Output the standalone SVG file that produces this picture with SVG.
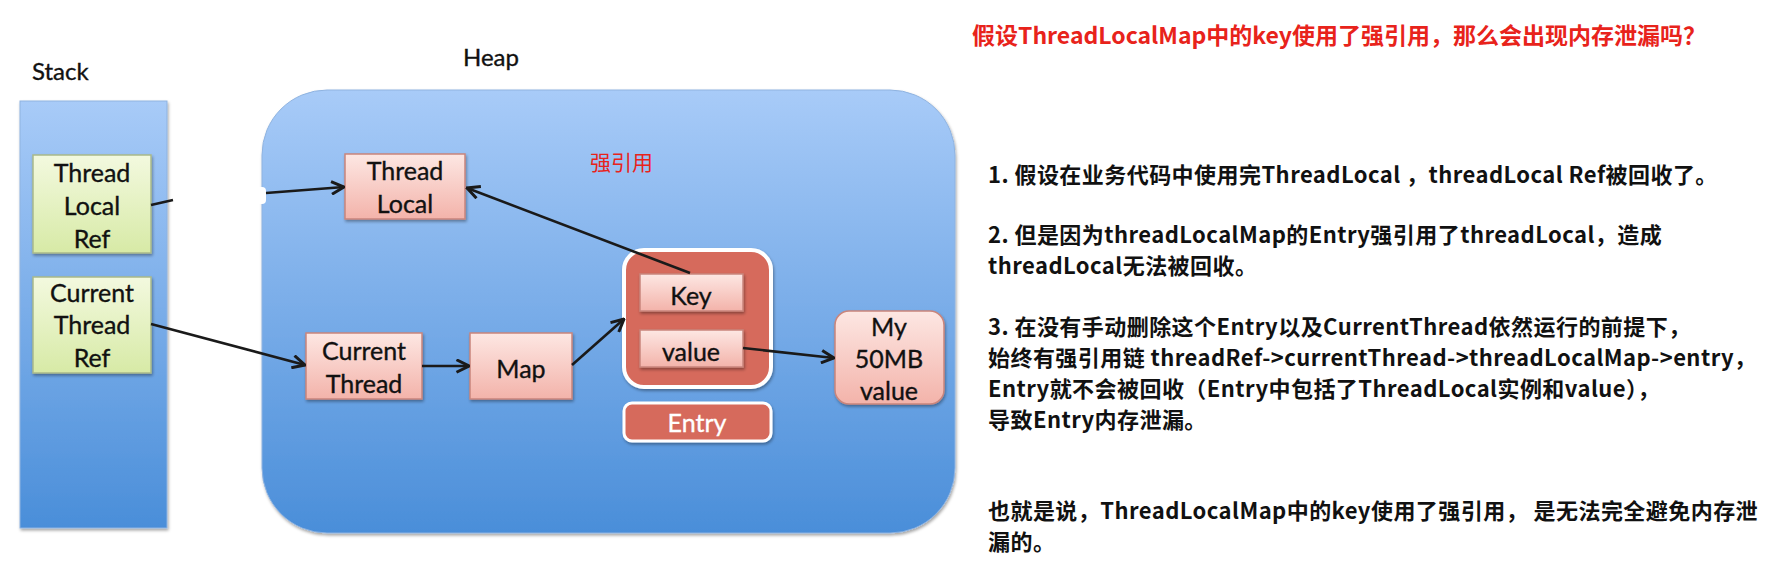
<svg xmlns="http://www.w3.org/2000/svg" width="1769" height="575" viewBox="0 0 1769 575">
<defs>
<linearGradient id="blue" x1="0" y1="0" x2="0" y2="1">
<stop offset="0" stop-color="#a8cbf8"/>
<stop offset="1" stop-color="#4a8ed9"/>
</linearGradient>
<linearGradient id="green" x1="0" y1="0" x2="0" y2="1">
<stop offset="0" stop-color="#f3f9df"/>
<stop offset="1" stop-color="#d7eaa6"/>
</linearGradient>
<linearGradient id="pink" x1="0" y1="0" x2="0" y2="1">
<stop offset="0" stop-color="#fde7e3"/>
<stop offset="1" stop-color="#f3b3aa"/>
</linearGradient>
<filter id="sh" x="-10%" y="-10%" width="130%" height="130%">
<feDropShadow dx="1" dy="2" stdDeviation="1.5" flood-color="#000" flood-opacity="0.35"/>
</filter>
<marker id="arr" viewBox="0 0 12 12" refX="11" refY="6" markerWidth="15" markerHeight="15" markerUnits="userSpaceOnUse" orient="auto">
<path d="M1,1 L11,6 L1,11" fill="none" stroke="#1a1a1a" stroke-width="2.4"/>
</marker>
</defs>
<style>
.lbl{font-family:Lato,"Liberation Sans",sans-serif;font-size:25px;fill:#111;stroke:#111;stroke-width:0.35;text-anchor:middle}
.hd{font-family:Lato,"Liberation Sans",sans-serif;font-size:24px;fill:#111;stroke:#111;stroke-width:0.35}
.green{fill:url(#green);stroke:#a9b98a;stroke-width:1.5;filter:url(#sh)}
.pink{fill:url(#pink);stroke:#c9857c;stroke-width:1.5;filter:url(#sh)}
.red{fill:#d66a5b;stroke:#fff;filter:url(#sh)}
.con{stroke:#1a1a1a;stroke-width:2.6;fill:none}
.txt{font-family:"Noto Sans CJK SC",sans-serif;font-size:22px;font-weight:bold;fill:#111;letter-spacing:0.45px}
.title{font-family:"Noto Sans CJK SC",sans-serif;font-size:23px;font-weight:bold;fill:#e8231b}
</style>
<rect width="1769" height="575" fill="#fff"/>

<g id="stack">
<text class="hd" x="32" y="80">Stack</text>
<rect x="20" y="101" width="147" height="427" fill="url(#blue)" stroke="#8fb3e0" stroke-width="1" filter="url(#sh)"/>
</g>
<g id="heap">
<text class="hd" x="463" y="66">Heap</text>
<rect x="262" y="90" width="693" height="443" rx="65" fill="url(#blue)" stroke="#8fb3e0" stroke-width="1" filter="url(#sh)"/>
</g>

<g id="threadLocalRef">
<rect class="green" x="33" y="155" width="118" height="98"/>
<text class="lbl" x="92" y="182">Thread</text>
<text class="lbl" x="92" y="215">Local</text>
<text class="lbl" x="92" y="248">Ref</text>
</g>
<g id="currentThreadRef">
<rect class="green" x="33" y="277" width="118" height="96"/>
<text class="lbl" x="92" y="302">Current</text>
<text class="lbl" x="92" y="334">Thread</text>
<text class="lbl" x="92" y="367">Ref</text>
</g>

<g id="threadLocal">
<rect class="pink" x="345" y="154" width="120" height="65"/>
<text class="lbl" x="405" y="180">Thread</text>
<text class="lbl" x="405" y="213">Local</text>
</g>
<g id="currentThread">
<rect class="pink" x="306" y="333" width="116" height="66"/>
<text class="lbl" x="364" y="360">Current</text>
<text class="lbl" x="364" y="393">Thread</text>
</g>
<g id="map">
<rect class="pink" x="470" y="333" width="102" height="66"/>
<text class="lbl" x="521" y="378">Map</text>
</g>
<g id="entry">
<rect class="red" x="624" y="250" width="147" height="137" rx="20" stroke-width="4"/>
<rect class="pink" x="640" y="274" width="103" height="37"/>
<text class="lbl" x="691" y="305">Key</text>
<rect class="pink" x="640" y="330" width="103" height="37"/>
<text class="lbl" x="691" y="361">value</text>
</g>
<g id="entryLabel">
<rect class="red" x="624" y="403" width="147" height="38" rx="8" stroke-width="3"/>
<text class="lbl" x="697" y="432" style="fill:#fff;stroke:#fff">Entry</text>
</g>
<g id="myValue">
<rect class="pink" x="835" y="311" width="109" height="93" rx="14"/>
<text class="lbl" x="889" y="336">My</text>
<text class="lbl" x="889" y="368">50MB</text>
<text class="lbl" x="889" y="400">value</text>
</g>

<g id="strongRefLabel">
<text x="590" y="170" style="font-family:'Noto Sans CJK SC',sans-serif;font-size:21px;fill:#e8231b">强引用</text>
</g>

<g id="connectors">
<line class="con" x1="151" y1="205" x2="173" y2="200"/>
<rect x="256" y="187" width="10" height="17" rx="4" fill="#fff"/>
<line class="con" x1="266" y1="193" x2="344" y2="187" marker-end="url(#arr)"/>
<line class="con" x1="151" y1="324" x2="305" y2="365" marker-end="url(#arr)"/>
<line class="con" x1="422" y1="366" x2="469" y2="366" marker-end="url(#arr)"/>
<line class="con" x1="572" y1="365" x2="624" y2="319" marker-end="url(#arr)"/>
<line class="con" x1="690" y1="273" x2="467" y2="188" stroke-width="4" marker-end="url(#arr)"/>
<line class="con" x1="743" y1="348" x2="834" y2="358" marker-end="url(#arr)"/>
</g>

<g id="notes">
<text class="title" x="972" y="44">假设ThreadLocalMap中的key使用了强引用，那么会出现内存泄漏吗？</text>
<text class="txt" x="988" y="183">1. 假设在业务代码中使用完ThreadLocal ，threadLocal Ref被回收了。</text>
<text class="txt" x="988" y="243">2. 但是因为threadLocalMap的Entry强引用了threadLocal，造成</text>
<text class="txt" x="988" y="274">threadLocal无法被回收。</text>
<text class="txt" x="988" y="335">3. 在没有手动删除这个Entry以及CurrentThread依然运行的前提下，</text>
<text class="txt" x="988" y="366">始终有强引用链 threadRef-&gt;currentThread-&gt;threadLocalMap-&gt;entry，</text>
<text class="txt" x="988" y="397">Entry就不会被回收（Entry中包括了ThreadLocal实例和value），</text>
<text class="txt" x="988" y="428">导致Entry内存泄漏。</text>
<text class="txt" x="988" y="519">也就是说，ThreadLocalMap中的key使用了强引用， 是无法完全避免内存泄</text>
<text class="txt" x="988" y="550">漏的。</text>
</g>
</svg>
